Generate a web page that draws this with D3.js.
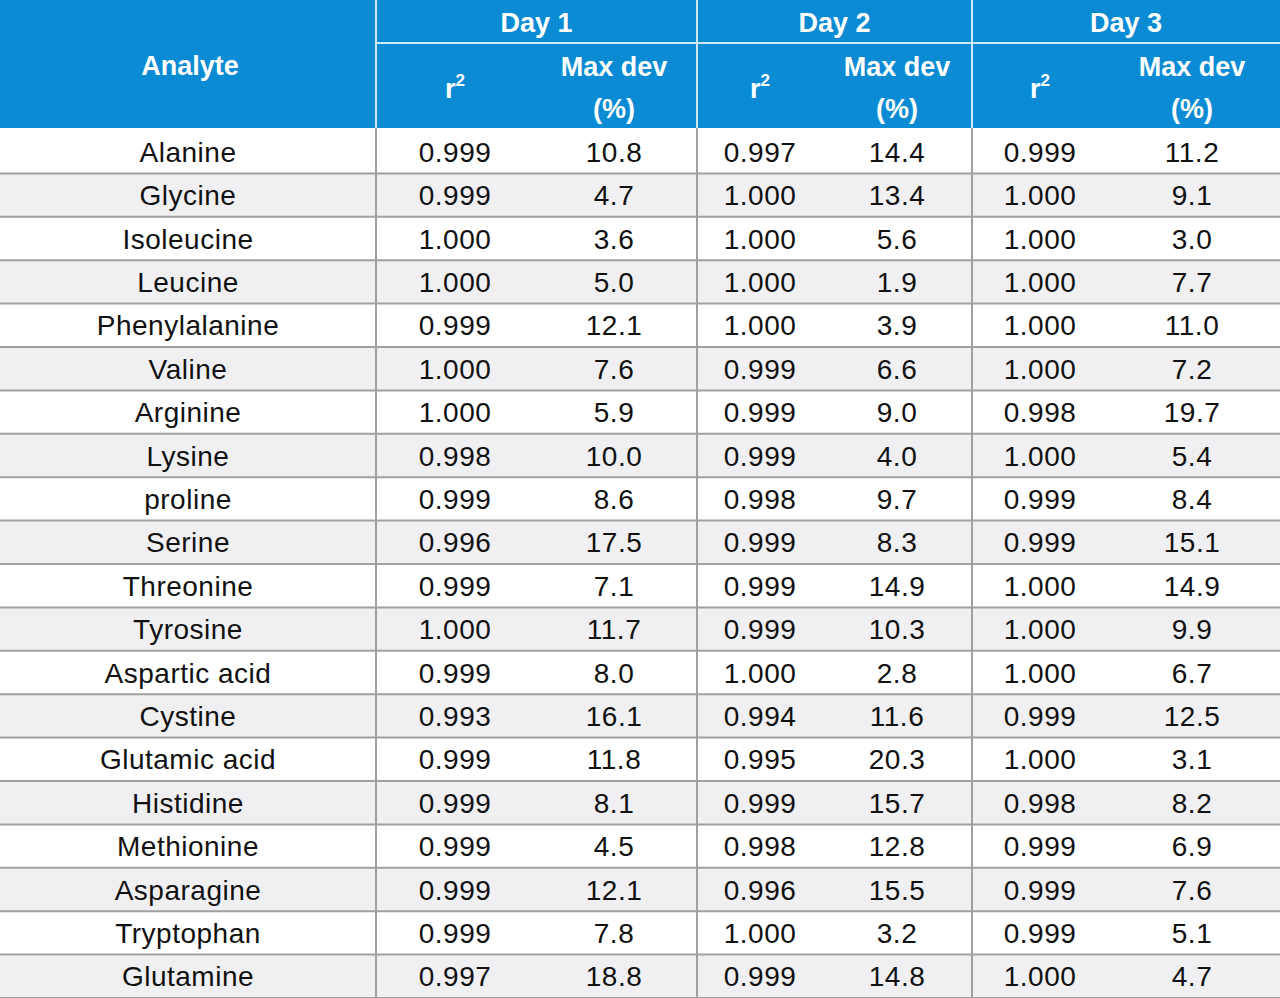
<!DOCTYPE html>
<html><head><meta charset="utf-8">
<script src="https://cdn.jsdelivr.net/npm/d3@7"></script>
<style>body{margin:0;background:#fff}svg{display:block;font-family:"Liberation Sans",Arial,sans-serif}</style>
</head><body><div id="container"></div>
<script>
/* DATA */
const analytes = ["Alanine","Glycine","Isoleucine","Leucine","Phenylalanine","Valine","Arginine","Lysine","proline","Serine","Threonine","Tyrosine","Aspartic acid","Cystine","Glutamic acid","Histidine","Methionine","Asparagine","Tryptophan","Glutamine"];
const days = ["Day 1","Day 2","Day 3"];
const r2Day1 = ["0.999","0.999","1.000","1.000","0.999","1.000","1.000","0.998","0.999","0.996","0.999","1.000","0.999","0.993","0.999","0.999","0.999","0.999","0.999","0.997"];
const devDay1 = ["10.8","4.7","3.6","5.0","12.1","7.6","5.9","10.0","8.6","17.5","7.1","11.7","8.0","16.1","11.8","8.1","4.5","12.1","7.8","18.8"];
const r2Day2 = ["0.997","1.000","1.000","1.000","1.000","0.999","0.999","0.999","0.998","0.999","0.999","0.999","1.000","0.994","0.995","0.999","0.998","0.996","1.000","0.999"];
const devDay2 = ["14.4","13.4","5.6","1.9","3.9","6.6","9.0","4.0","9.7","8.3","14.9","10.3","2.8","11.6","20.3","15.7","12.8","15.5","3.2","14.8"];
const r2Day3 = ["0.999","1.000","1.000","1.000","1.000","1.000","0.998","1.000","0.999","0.999","1.000","1.000","1.000","0.999","1.000","0.998","0.999","0.999","0.999","1.000"];
const devDay3 = ["11.2","9.1","3.0","7.7","11.0","7.2","19.7","5.4","8.4","15.1","14.9","9.9","6.7","12.5","3.1","8.2","6.9","7.6","5.1","4.7"];

const width = 1280, height = 998, headH = 128;
const blue = "#0b8bd3", lineCol = "#a0a0a0";
const dayBounds = [376, 697, 972, 1280];
const colCenters = [188, 455, 614, 760, 897, 1040, 1192];

const yScale = d3.scaleBand().domain(analytes).range([headH + 2, height]);

const svg = d3.select("#container").append("svg").attr("width", width).attr("height", height);

// header
svg.append("rect").attr("width", width).attr("height", headH).attr("fill", blue);
svg.append("line").attr("x1", dayBounds[0]).attr("x2", width).attr("y1", 43).attr("y2", 43)
  .attr("stroke", "#cfe9f8").attr("stroke-width", 2);
svg.selectAll(".vhead").data(dayBounds.slice(0, 3)).join("line")
  .attr("x1", d => d).attr("x2", d => d).attr("y1", 0).attr("y2", headH)
  .attr("stroke", "#cfe9f8").attr("stroke-width", 2);

const hTxt = (x, y, t) => svg.append("text").attr("x", x).attr("y", y).attr("text-anchor", "middle")
  .attr("fill", "#fff").attr("font-weight", "bold").attr("font-size", 27).text(t);
hTxt(190, 75, "Analyte");
days.forEach((d, i) => {
  hTxt((dayBounds[i] + dayBounds[i + 1]) / 2, 32, d);
  const r = hTxt(colCenters[1 + i * 2], 98, "r");
  r.append("tspan").attr("dy", -12).attr("font-size", 17).text("2");
  hTxt(colCenters[2 + i * 2], 76, "Max dev");
  hTxt(colCenters[2 + i * 2], 118, "(%)");
});

// rows
const rows = analytes.map((a, i) => [a, r2Day1[i], devDay1[i], r2Day2[i], devDay2[i], r2Day3[i], devDay3[i]]);
svg.selectAll(".bg").data(analytes).join("rect")
  .attr("x", 0).attr("y", d => yScale(d)).attr("width", width).attr("height", yScale.bandwidth())
  .attr("fill", (d, i) => i % 2 ? "#f0f0f3" : "#fff");
svg.selectAll(".hl").data(analytes).join("line")
  .attr("x1", 0).attr("x2", width)
  .attr("y1", d => yScale(d) + yScale.bandwidth()).attr("y2", d => yScale(d) + yScale.bandwidth())
  .attr("stroke", lineCol).attr("stroke-width", 2);
svg.selectAll(".vl").data(dayBounds.slice(0, 3)).join("line")
  .attr("x1", d => d).attr("x2", d => d).attr("y1", headH).attr("y2", height)
  .attr("stroke", lineCol).attr("stroke-width", 2);

const g = svg.selectAll(".row").data(rows).join("g")
  .attr("transform", (d, i) => `translate(0,${yScale(analytes[i]) + yScale.bandwidth() / 2 + 10})`);
g.selectAll("text").data(d => d).join("text")
  .attr("x", (d, j) => colCenters[j]).attr("text-anchor", "middle")
  .attr("font-size", 28).attr("fill", "#111").attr("letter-spacing", 0.5).text(d => d);
</script></body></html>
